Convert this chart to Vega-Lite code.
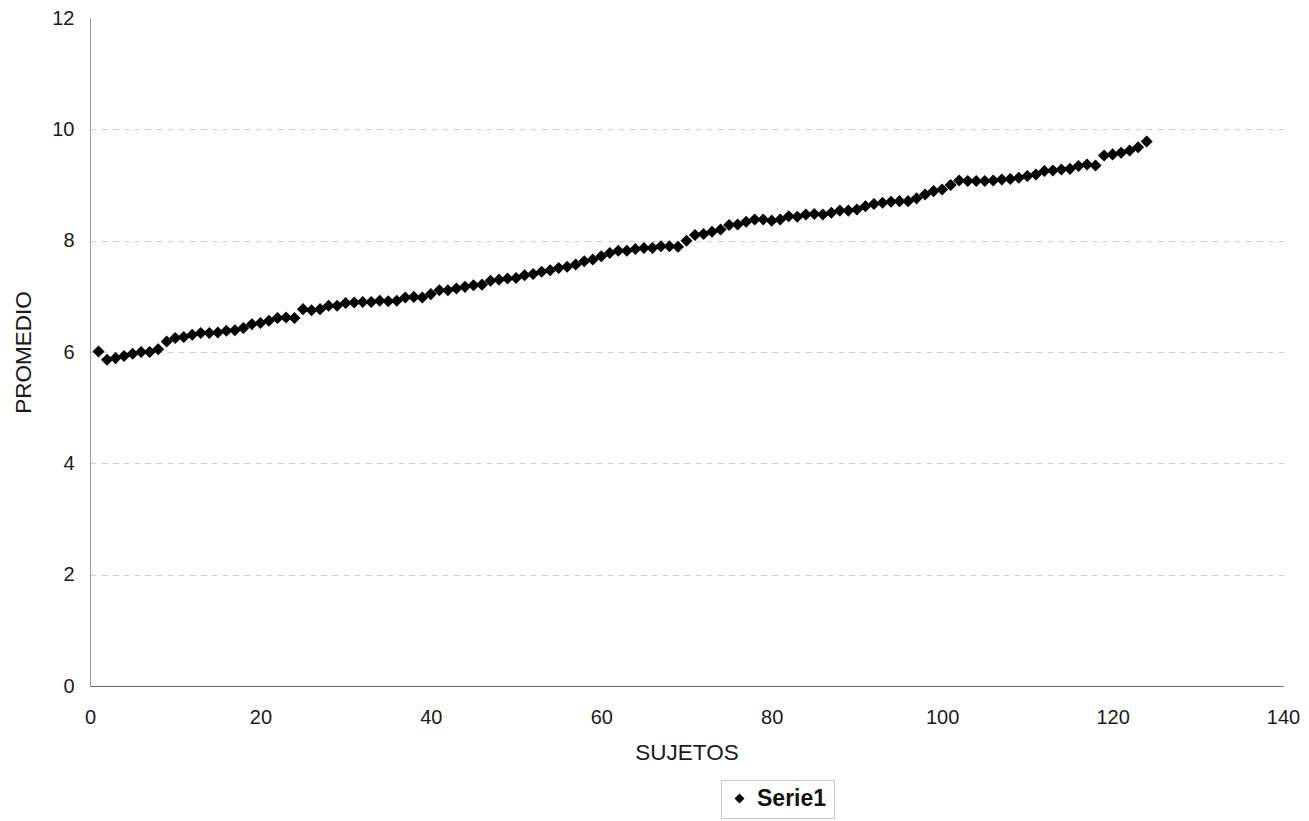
{
  "$schema": "https://vega.github.io/schema/vega-lite/v6.json",
  "autosize": "none",
  "width": 1193,
  "height": 668,
  "padding": {"left": 90, "top": 18, "right": 26, "bottom": 135},
  "background": "white",
  "config": {
    "view": {"stroke": null},
    "font": "Liberation Sans",
    "axis": {"labelFont": "Liberation Sans", "titleFont": "Liberation Sans", "labelColor": "#1a1a1a", "titleColor": "#1a1a1a"},
    "legend": {"strokeColor": "#c8c8c8", "padding": 7}
  },
  "data": {"values": [
    {"x":1,"y":6.01},{"x":2,"y":5.86},{"x":3,"y":5.89},{"x":4,"y":5.93},{"x":5,"y":5.97},{"x":6,"y":6.0},{"x":7,"y":6.0},{"x":8,"y":6.05},{"x":9,"y":6.19},{"x":10,"y":6.25},
    {"x":11,"y":6.27},{"x":12,"y":6.31},{"x":13,"y":6.34},{"x":14,"y":6.34},{"x":15,"y":6.35},{"x":16,"y":6.38},{"x":17,"y":6.39},{"x":18,"y":6.43},{"x":19,"y":6.5},{"x":20,"y":6.52},
    {"x":21,"y":6.56},{"x":22,"y":6.61},{"x":23,"y":6.62},{"x":24,"y":6.61},{"x":25,"y":6.77},{"x":26,"y":6.75},{"x":27,"y":6.77},{"x":28,"y":6.83},{"x":29,"y":6.83},{"x":30,"y":6.88},
    {"x":31,"y":6.89},{"x":32,"y":6.9},{"x":33,"y":6.9},{"x":34,"y":6.92},{"x":35,"y":6.91},{"x":36,"y":6.92},{"x":37,"y":6.98},{"x":38,"y":6.99},{"x":39,"y":6.98},{"x":40,"y":7.04},
    {"x":41,"y":7.11},{"x":42,"y":7.11},{"x":43,"y":7.14},{"x":44,"y":7.17},{"x":45,"y":7.2},{"x":46,"y":7.21},{"x":47,"y":7.28},{"x":48,"y":7.3},{"x":49,"y":7.32},{"x":50,"y":7.33},
    {"x":51,"y":7.38},{"x":52,"y":7.4},{"x":53,"y":7.44},{"x":54,"y":7.47},{"x":55,"y":7.51},{"x":56,"y":7.53},{"x":57,"y":7.57},{"x":58,"y":7.63},{"x":59,"y":7.66},{"x":60,"y":7.72},
    {"x":61,"y":7.78},{"x":62,"y":7.82},{"x":63,"y":7.82},{"x":64,"y":7.85},{"x":65,"y":7.87},{"x":66,"y":7.87},{"x":67,"y":7.9},{"x":68,"y":7.9},{"x":69,"y":7.89},{"x":70,"y":8.0},
    {"x":71,"y":8.1},{"x":72,"y":8.12},{"x":73,"y":8.16},{"x":74,"y":8.2},{"x":75,"y":8.28},{"x":76,"y":8.29},{"x":77,"y":8.34},{"x":78,"y":8.38},{"x":79,"y":8.38},{"x":80,"y":8.36},
    {"x":81,"y":8.38},{"x":82,"y":8.44},{"x":83,"y":8.43},{"x":84,"y":8.47},{"x":85,"y":8.48},{"x":86,"y":8.47},{"x":87,"y":8.5},{"x":88,"y":8.54},{"x":89,"y":8.54},{"x":90,"y":8.56},
    {"x":91,"y":8.62},{"x":92,"y":8.66},{"x":93,"y":8.68},{"x":94,"y":8.7},{"x":95,"y":8.71},{"x":96,"y":8.71},{"x":97,"y":8.76},{"x":98,"y":8.83},{"x":99,"y":8.89},{"x":100,"y":8.92},
    {"x":101,"y":9.0},{"x":102,"y":9.08},{"x":103,"y":9.07},{"x":104,"y":9.07},{"x":105,"y":9.07},{"x":106,"y":9.08},{"x":107,"y":9.1},{"x":108,"y":9.11},{"x":109,"y":9.13},{"x":110,"y":9.16},
    {"x":111,"y":9.19},{"x":112,"y":9.25},{"x":113,"y":9.26},{"x":114,"y":9.28},{"x":115,"y":9.29},{"x":116,"y":9.34},{"x":117,"y":9.37},{"x":118,"y":9.35},{"x":119,"y":9.53},{"x":120,"y":9.55},
    {"x":121,"y":9.58},{"x":122,"y":9.62},{"x":123,"y":9.68},{"x":124,"y":9.78}
  ]},
  "mark": {"type": "point", "shape": "diamond", "filled": true, "size": 145, "opacity": 1},
  "encoding": {
    "x": {
      "field": "x", "type": "quantitative",
      "scale": {"domain": [0, 140], "nice": false},
      "axis": {
        "title": "SUJETOS", "values": [0,20,40,60,80,100,120,140], "grid": false,
        "domainColor": "#666", "domainWidth": 1.2, "ticks": false, "labelFlush": false,
        "labelFontSize": 20, "labelPadding": 21, "titleFontSize": 22.5, "titleFontWeight": "normal", "titlePadding": 14
      }
    },
    "y": {
      "field": "y", "type": "quantitative",
      "scale": {"domain": [0, 12], "nice": false},
      "axis": {
        "title": "PROMEDIO", "values": [0,2,4,6,8,10,12], "grid": true,
        "gridColor": "#cfcfcf", "gridDash": [6,5], "gridWidth": 1,
        "gridOpacity": {"condition": {"test": "datum.value === 12", "value": 0}, "value": 1},
        "domainColor": "#999", "ticks": false, "labelFlush": false,
        "labelFontSize": 20, "labelPadding": 16, "titleFontSize": 22.5, "titleFontWeight": "normal", "titlePadding": 16
      }
    },
    "color": {
      "datum": "Serie1", "type": "nominal",
      "scale": {"range": ["#000000"]},
      "legend": {
        "title": null, "orient": "none", "legendX": 631, "legendY": 762,
        "labelFontSize": 23, "labelFontWeight": "bold", "labelColor": "#111", "labelFont": "Liberation Sans",
        "symbolType": "diamond", "symbolSize": 100, "symbolStrokeWidth": 0, "labelOffset": 6,
        "fillColor": "white"
      }
    }
  }
}
